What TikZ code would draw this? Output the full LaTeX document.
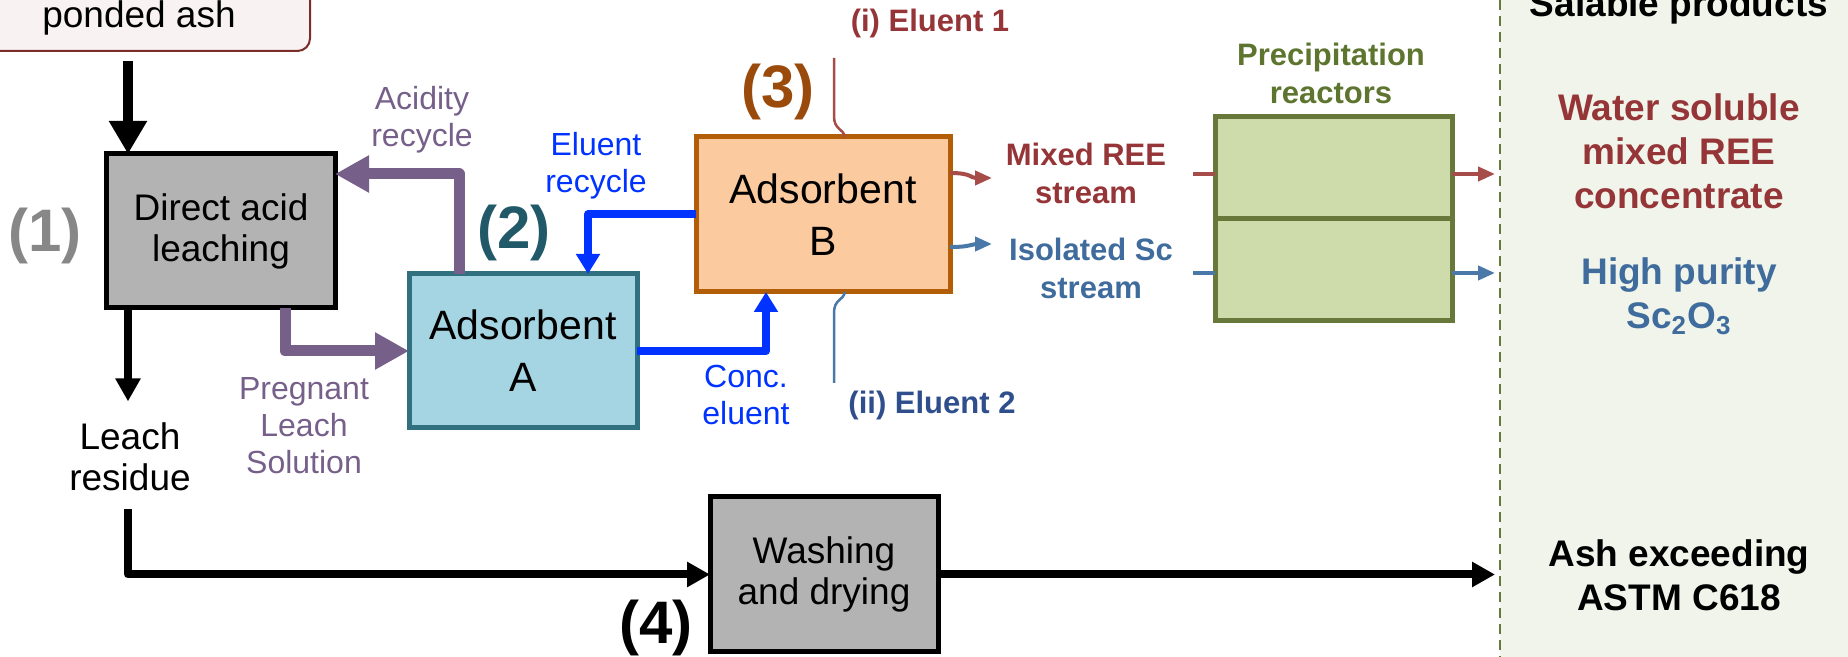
\documentclass[tikz,border=0pt]{standalone}
\usepackage{fontspec}
\setmainfont{Liberation Sans}
\usetikzlibrary{arrows.meta,calc}
\definecolor{cpurp}{HTML}{76608A}
\definecolor{cebl}{HTML}{0033FF}
\definecolor{cteal}{HTML}{215968}
\definecolor{cafill}{HTML}{A5D5E2}
\definecolor{cabd}{HTML}{31717F}
\definecolor{cbfill}{HTML}{FBCA9E}
\definecolor{cbbd}{HTML}{B25D07}
\definecolor{corn}{HTML}{9A4A0A}
\definecolor{cgfill}{HTML}{B3B3B3}
\definecolor{cgnum}{HTML}{878787}
\definecolor{cdred}{HTML}{953537}
\definecolor{crl}{HTML}{A64D49}
\definecolor{cdblu}{HTML}{2F4F8C}
\definecolor{csblu}{HTML}{3F6C9C}
\definecolor{cbl}{HTML}{4A78A8}
\definecolor{cpfill}{HTML}{CDDCAA}
\definecolor{cpbd}{HTML}{67783A}
\definecolor{cptext}{HTML}{5E7530}
\definecolor{cpanel}{HTML}{F0F4EA}
\definecolor{cashfill}{HTML}{F8F2F2}
\definecolor{cashbd}{HTML}{7A2E2A}
\newcommand\boxfont{\fontsize{14.8pt}{16.4pt}\selectfont}
\newcommand\adsfont{\fontsize{16.4pt}{20.8pt}\selectfont}
\newcommand\lblfont{\fontsize{12.8pt}{14.8pt}\selectfont}
\newcommand\bfont{\bfseries\fontsize{12.4pt}{15.2pt}\selectfont}
\newcommand\pfont{\bfseries\fontsize{14.8pt}{17.6pt}\selectfont}
\newcommand\numfont{\bfseries\fontsize{24pt}{28pt}\selectfont}
\begin{document}
\begin{tikzpicture}[x=0.4pt,y=-0.4pt,
  box/.style={draw, line width=2pt, minimum width=91.2pt, minimum height=61.6pt, inner sep=0pt, outer sep=0pt, align=center},
  lbl/.style={align=center, inner sep=0pt},
  blkbig/.style={line width=4pt, -{Triangle[length=13.2pt,width=14.4pt]}},
  blk/.style={line width=3.2pt, -{Triangle[length=9.2pt,width=9.6pt]}},
  blkline/.style={line width=3.2pt, line join=round},
  parr/.style={cpurp, line width=4.4pt, line join=round, -{Triangle[length=13.6pt,width=14pt]}},
  barr/.style={cebl, line width=3.2pt, line join=round, -{Triangle[length=8pt,width=9.2pt]}},
  tarr/.style={line width=1.6pt, -{Triangle[length=6.8pt,width=5.6pt]}},
  tline/.style={line width=1.6pt},
  eline/.style={line width=1pt}
]
\useasboundingbox (0,0) rectangle (1848,657);
\clip (0,0) rectangle (1848,657);
% salable products panel
\fill[cpanel] (1500,0) rectangle (1848,657);
\draw[cpbd, line width=0.8pt, dash pattern=on 4pt off 2.4pt] (1500,0) -- (1500,657);

% boxes
\node[box, fill=cashfill, draw=cashbd, line width=0.8pt, rounded corners=5pt, minimum width=136.8pt, minimum height=26.4pt, font=\boxfont] (ash) at (139,18) {ponded ash};
\node[box, fill=cgfill, font=\boxfont] (dal) at (221,231) {Direct acid\\leaching};
\node[box, fill=cafill, draw=cabd, font=\adsfont] (adsA) at (523,351) {Adsorbent\\A};
\node[box, fill=cbfill, draw=cbbd, minimum width=101.6pt, minimum height=62pt, font=\adsfont] (adsB) at (823,214.5) {Adsorbent\\B};
\node[box, fill=cgfill, minimum height=62pt, font=\boxfont] (wash) at (824,574.5) {Washing\\and drying};
\node[box, fill=cpfill, draw=cpbd, minimum width=94.8pt, minimum height=40.8pt] (pr1) at (1333.5,168) {};
\node[box, fill=cpfill, draw=cpbd, minimum width=94.8pt, minimum height=40.8pt] (pr2) at (1333.5,270) {};

% labels
\node[lbl, text=cgnum, font=\numfont] (n1) at (45,236) {(1)};
\node[lbl, text=cteal, font=\numfont] (n2) at (514,233) {(2)};
\node[lbl, text=corn, font=\numfont] (n3) at (778,92) {(3)};
\node[lbl, text=black, font=\numfont] (n4) at (656,628) {(4)};
\node[lbl, font=\boxfont] (res) at (130,457) {Leach\\residue};
\node[lbl, text=cpurp, font=\lblfont] (acl) at (422,120) {Acidity\\recycle};
\node[lbl, text=cpurp, font=\lblfont] (pls) at (304,426) {Pregnant\\Leach\\Solution};
\node[lbl, text=cebl, font=\lblfont] (erl) at (596,166) {Eluent\\recycle};
\node[lbl, text=cebl, font=\lblfont] (cel) at (746,395) {Conc.\\eluent};
\node[lbl, text=cdred, font=\bfont] (el1) at (930,23) {(i) Eluent 1};
\node[lbl, text=cdblu, font=\bfont] (el2) at (932,405) {(ii) Eluent 2};
\node[lbl, text=cdred, font=\bfont] (mre) at (1086,173) {Mixed REE\\stream};
\node[lbl, text=csblu, font=\bfont] (isc) at (1091,268) {Isolated Sc\\stream};
\node[lbl, text=cptext, font=\bfont] (prl) at (1331,73) {Precipitation\\reactors};
\node[lbl, anchor=base, font=\pfont] (sal) at (1679,17) {Salable products};
\node[lbl, text=cdred, font=\pfont] (wsl) at (1679,151) {Water soluble\\mixed REE\\concentrate};
\node[lbl, text=csblu, font=\pfont] (hps) at (1679,296) {High purity\\Sc\textsubscript{2}O\textsubscript{3}};
\node[lbl, font=\pfont] (aex) at (1679,575) {Ash exceeding\\ASTM C618};

% coordinates
\coordinate (c1) at (128,0);
\coordinate (pl) at (285,352);
\coordinate (ac) at (459,174);
\coordinate (er) at (588,0);
\coordinate (ce) at (766,0);
\coordinate (e1a) at (834,58);
\coordinate (e1x) at (845,0);
\coordinate (e2b) at (834,383);
\coordinate (mr0) at (0,173);
\coordinate (mrtip) at (992,178);
\coordinate (sc0) at (0,247);
\coordinate (sctip) at (992,244);
\coordinate (mrr) at (1193,174);
\coordinate (scl) at (1193,273);
\coordinate (po1) at (1495,174);
\coordinate (po2) at (1495,273);
\coordinate (ashend) at (1495,574.5);

% black flow
\draw[blkbig, shorten <=4pt] (ash.south -| c1) -- (dal.north -| c1);
\draw[blk, shorten >=8.4pt] (dal.south -| c1) -- (res.north -| c1);
\draw[blkline, -{Triangle[length=9.2pt,width=9.6pt]}, shorten <=7pt] (res.south -| c1) |- (wash.west);
\draw[blk] (wash.east) -- (ashend);

% purple
\draw[parr] (dal.south -| pl) |- (adsA.west);
\draw[parr] (adsA.north -| ac) -- (ac) -- (dal.east |- ac);

% blue
\draw[barr] (adsB.west) -| (adsA.north -| er);
\draw[barr] (adsA.east) -| (adsB.south -| ce);

% eluent feeds
\draw[crl, eline] (e1a) -- (834,116) .. controls (834,130) and (843,128) .. (adsB.north -| e1x);
\draw[cbl, eline] (adsB.south -| e1x) .. controls (843,301) and (834,299) .. (834,313) -- (e2b);

% streams
\draw[crl, tarr] (adsB.east |- mr0) .. controls (972,173) and (970,178) .. (mrtip);
\draw[cbl, tarr] (adsB.east |- sc0) .. controls (972,247) and (970,244) .. (sctip);
\draw[crl, tline] (mrr) -- (pr1.west |- mrr);
\draw[cbl, tline] (scl) -- (pr2.west |- scl);
\draw[crl, tarr] (pr1.east |- mrr) -- (po1);
\draw[cbl, tarr] (pr2.east |- scl) -- (po2);
\end{tikzpicture}
\end{document}
